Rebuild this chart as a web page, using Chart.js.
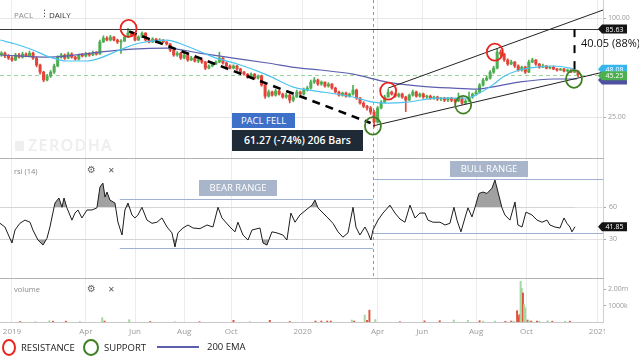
<!DOCTYPE html>
<html><head><meta charset="utf-8">
<script src="https://cdn.jsdelivr.net/npm/chart.js@4.4.1/dist/chart.umd.min.js"></script>
<style>
html,body{margin:0;padding:0;background:#fff;}
#wrap{position:relative;width:639px;height:360px;overflow:hidden;font-family:"Open Sans",sans-serif;}
#wrap canvas{position:absolute;left:0;}
.t{position:absolute;white-space:nowrap;line-height:1;}
.sep{position:absolute;left:0;width:604px;height:1px;background:#b3b3b3;}
.box{position:absolute;color:#fff;text-align:center;white-space:nowrap;}
.ring{position:absolute;border-radius:50%;}
</style></head><body>
<div id="wrap">
 <div class="t" style="left:15px;top:141px;width:9px;height:10px;background:#efefef"></div>
 <div class="t" style="left:28px;top:137px;font-size:16px;color:#eeeeee;letter-spacing:1.4px;font-weight:600">ZERODHA</div>
 <canvas id="cPrice" width="639" height="158" style="top:0"></canvas>
 <canvas id="cRsi" width="639" height="119" style="top:159px"></canvas>
 <canvas id="cVol" width="639" height="60" style="top:279px"></canvas>
 <div class="sep" style="top:158px"></div>
 <div class="sep" style="top:278px"></div>

 <div class="t" style="left:14px;top:11px;font-size:8px;color:#8a8a8a">PACL</div>
 <div class="t" style="left:40px;top:9px;font-size:9px;color:#444;font-family:'DejaVu Sans'">⋮</div>
 <div class="t" style="left:49px;top:11px;font-size:8px;color:#333">DAILY</div>

 <div class="box" style="left:232px;top:113px;width:63px;height:15px;line-height:15px;background:#3f70c8;font-size:9.5px">PACL FELL</div>
 <div class="box" style="left:232px;top:130px;width:131px;height:21px;line-height:21px;background:#1e2a35;font-size:10.5px;font-weight:600">61.27 (-74%) 206 Bars</div>
 <div class="t" style="left:581px;top:37px;font-size:11px;color:#111">40.05 (88%)</div>

 <div class="t" style="left:14px;top:168px;font-size:7.5px;color:#888">rsi (14)</div>
 <div class="t" style="left:87px;top:165px;font-size:10px;color:#666;font-family:'DejaVu Sans'">⚙</div>
 <div class="t" style="left:108px;top:167px;font-size:8px;color:#555;font-family:'DejaVu Sans'">✕</div>
 <div class="box" style="left:199px;top:180px;width:78px;height:16px;line-height:16px;background:#a8b5ca;font-size:9.5px">BEAR RANGE</div>
 <div class="box" style="left:450px;top:161px;width:78px;height:16px;line-height:16px;background:#a8b5ca;font-size:9.5px">BULL RANGE</div>

 <div class="t" style="left:14px;top:286px;font-size:7.5px;color:#888">volume</div>
 <div class="t" style="left:87px;top:284px;font-size:10px;color:#666;font-family:'DejaVu Sans'">⚙</div>
 <div class="t" style="left:108px;top:286px;font-size:8px;color:#555;font-family:'DejaVu Sans'">✕</div>

 <div class="ring" style="left:2px;top:339px;width:10px;height:13px;border:2px solid #e8261f"></div>
 <div class="t" style="left:21px;top:343px;font-size:9.5px;color:#222">RESISTANCE</div>
 <div class="ring" style="left:83px;top:339px;width:12px;height:13px;border:2px solid #3f7f22"></div>
 <div class="t" style="left:104px;top:343px;font-size:9.5px;color:#222">SUPPORT</div>
 <div class="t" style="left:157px;top:346px;width:42px;height:2px;background:#5b5fae"></div>
 <div class="t" style="left:207px;top:342px;font-size:9.5px;color:#222">200 EMA</div>
</div>
<script>
// ---------- data (x in trading-day index, 0 = 1 Jan 2019) ----------
const monthTickIdx = [0, 63, 105, 147, 187, 248, 312, 350, 396, 439, 500];
const monthLabels = ["2019","Apr","Jun","Aug","Oct","2020","Apr","Jun","Aug","Oct","2021"];
const firstCandleDay = -9, candleStepDays = 3;

const opens = [60.0,61.2,58.8,57.1,55.6,59.6,57.9,60.4,58.8,61.2,
57.1,51.8,46.9,42.0,44.4,46.9,51.1,57.9,59.6,57.1,
60.4,57.9,56.3,59.6,58.8,60.4,59.6,61.2,60.4,71.5,
75.6,73.5,76.6,73.5,71.5,72.5,76.6,81.0,78.8,73.5,
76.6,81.0,73.5,71.5,74.6,71.5,73.5,71.5,69.5,63.9,
59.6,61.2,57.1,59.6,55.6,57.1,54.7,55.6,54.0,49.6,
51.1,52.5,54.0,57.1,53.3,51.1,49.6,51.1,49.0,46.9,
45.6,43.8,45.6,43.1,44.4,39.1,33.5,35.5,34.0,36.0,
34.5,33.1,34.0,31.7,33.1,35.5,34.5,36.5,37.5,40.8,
42.0,39.7,40.8,38.6,39.7,37.5,35.5,34.0,35.0,33.5,
34.5,36.5,32.6,30.4,29.1,28.4,26.8,23.3,28.4,30.8,
33.1,35.5,34.5,33.5,34.5,33.1,31.7,34.0,35.5,33.5,
34.5,33.1,33.5,32.6,33.1,32.2,32.6,31.7,32.6,31.7,
31.3,32.6,30.4,31.3,33.1,34.5,35.5,39.1,42.0,43.1,
46.9,49.6,62.1,60.4,55.6,52.5,54.0,51.1,48.3,50.3,
46.9,54.0,55.6,52.5,50.3,51.1,49.6,50.3,49.0,48.3,
49.0,47.6,48.3,46.9,47.6];
const closes = [61.2,58.8,57.1,55.6,59.6,57.9,60.4,58.8,61.2,57.1,
51.8,46.9,42.0,44.4,46.9,51.1,57.9,59.6,57.1,60.4,
57.9,56.3,59.6,58.8,60.4,59.6,61.2,60.4,71.5,75.6,
73.5,76.6,73.5,71.5,72.5,76.6,81.0,78.8,73.5,76.6,
81.0,73.5,71.5,74.6,71.5,73.5,71.5,69.5,63.9,59.6,
61.2,57.1,59.6,55.6,57.1,54.7,55.6,54.0,49.6,51.1,
52.5,54.0,57.1,53.3,51.1,49.6,51.1,49.0,46.9,45.6,
43.8,45.6,43.1,44.4,39.1,33.5,35.5,34.0,36.0,34.5,
33.1,34.0,31.7,33.1,35.5,34.5,36.5,37.5,40.8,42.0,
39.7,40.8,38.6,39.7,37.5,35.5,34.0,35.0,33.5,34.5,
36.5,32.6,30.4,29.1,28.4,26.8,23.3,28.4,30.8,33.1,
35.5,34.5,33.5,34.5,33.1,31.7,34.0,35.5,33.5,34.5,
33.1,33.5,32.6,33.1,32.2,32.6,31.7,32.6,31.7,31.3,
32.6,30.4,31.3,33.1,34.5,35.5,39.1,42.0,43.1,46.9,
49.6,62.1,60.4,55.6,52.5,54.0,51.1,48.3,50.3,46.9,
54.0,55.6,52.5,50.3,51.1,49.6,50.3,49.0,48.3,49.0,
47.6,48.3,46.9,47.6,45.25];
const highs = [62.5,62.0,60.0,58.5,61.0,61.0,62.0,61.5,63.0,62.0,
58.0,52.5,47.5,45.5,48.0,52.5,59.0,61.0,60.5,62.0,
61.5,58.5,60.5,61.0,62.0,61.5,63.0,62.5,73.5,78.0,
77.0,78.5,77.5,74.5,74.0,78.0,86.5,83.0,79.5,78.0,
82.5,81.5,74.5,76.0,75.0,75.0,74.0,72.0,70.0,64.5,
62.5,62.0,61.0,60.0,58.5,58.0,56.5,56.5,54.5,52.0,
53.5,55.0,62.0,57.5,54.0,52.0,52.0,51.5,49.5,47.5,
46.0,46.5,46.0,45.0,45.0,39.5,36.5,36.0,37.0,36.5,
35.0,35.0,34.5,34.0,36.5,36.0,37.5,38.5,42.0,43.5,
42.5,41.5,41.0,40.5,40.0,38.0,36.0,35.5,35.5,35.0,
39.0,37.0,33.0,31.0,29.5,29.0,27.5,29.0,31.5,34.0,
37.0,36.0,35.0,35.0,35.0,33.5,34.5,36.5,36.0,35.0,
35.0,34.0,34.0,33.5,33.5,33.0,33.0,33.0,33.0,32.5,
35.0,33.0,32.0,35.5,35.0,36.5,40.0,43.0,44.5,48.0,
51.0,65.0,64.0,61.0,56.5,55.5,54.5,52.0,51.0,51.0,
55.5,57.0,56.0,53.0,52.5,51.5,51.0,51.0,49.5,49.5,
49.5,49.0,48.5,48.0,48.0];
const lows = [58.5,57.5,56.0,54.5,55.0,57.0,57.0,58.0,58.0,56.0,
50.5,45.5,41.0,41.5,43.5,46.0,50.5,57.0,56.0,56.5,
57.0,55.5,55.5,58.0,58.0,58.5,59.0,59.5,60.0,71.0,
72.5,72.5,72.5,70.0,61.0,72.0,76.0,77.5,72.5,73.0,
76.0,72.5,70.5,71.0,70.5,71.0,70.5,68.5,62.5,58.5,
58.5,56.0,56.5,54.5,55.0,54.0,53.5,53.0,48.5,49.0,
50.5,52.0,53.5,52.5,50.5,49.0,49.0,48.0,46.0,45.0,
43.0,43.5,42.5,42.5,38.5,32.5,33.0,33.5,33.5,34.0,
32.5,32.5,30.5,31.0,33.0,34.0,34.0,36.0,37.0,40.0,
39.0,39.0,38.0,38.0,37.0,35.0,33.5,33.5,33.0,33.0,
34.0,32.0,30.0,28.5,27.5,26.0,21.7,23.0,28.0,30.5,
33.0,34.0,33.0,33.0,32.5,27.0,31.5,33.5,33.0,33.0,
32.5,32.5,32.0,32.0,31.5,31.5,31.0,31.0,31.0,30.5,
31.0,29.8,30.0,31.0,32.5,34.0,35.0,38.5,41.5,42.5,
46.0,49.0,58.5,54.5,51.5,52.0,50.0,47.5,47.5,46.0,
46.5,53.5,51.5,49.5,50.0,49.0,49.0,48.5,47.5,48.0,
47.0,47.0,46.5,46.5,44.0];

const emaFastIdx = [-10,3,18,32,47,64,75,92,109,132,149,172,195,218,240,254,291,308,320,337,363,388,399,410,419,433,448,462,476,482];
const emaFastVals = [73.5,69.5,63.9,57.9,54.8,54.8,57.1,63.9,70.5,73.5,67.6,57.9,51.8,45.0,38.0,36.5,33.1,30.8,30.4,30.8,32.6,32.6,35.0,39.1,43.8,48.3,50.3,51.1,49.6,48.08];
const ema200Idx = [-10,32,75,103,132,160,189,218,246,263,291,320,348,376,397,414,433,462,482];
const ema200Vals = [59.6,57.9,62.1,64.8,65.7,61.2,57.1,53.3,49.6,48.3,45.6,40.8,38.6,37.5,37.0,38.6,40.8,42.6,42.6];

const rsiIdx = [-10.2,-6,0,2.6,6.8,11.1,15.4,17.9,22.2,26.5,29.9,32.4,36.7,40.1,42.7,44.4,46.9,51.2,53.8,56.3,59.7,64,68.3,72.5,75.1,77.6,79.4,81.1,83.6,87.9,90.4,93.9,96.4,99,102.4,104.9,107.5,110.9,115.2,119.5,123.7,128,132.3,136.5,139.1,141.6,145.9,150.2,154.4,160.4,166.4,171.5,175.8,179.2,186,190.3,192.8,197.1,201.4,204.8,211.6,214.2,217.6,221.8,226.1,231.2,234.6,238,241.5,245.7,250.9,256,258.5,261.1,265.4,269.6,273.9,278.2,282.4,286.7,291,293.5,296.9,301.2,303.8,306.3,308,312.3,316.6,322.5,326.8,331.1,335.3,339.6,343.9,348.1,352.4,354.9,359.2,365.2,369.5,373.7,377.1,379.7,383.1,386.5,389.1,392.5,395.1,398.5,401.9,405.3,409.6,412.1,414.7,418.1,420.6,424.9,429.2,431.7,435.2,438.6,443.7,448,452.2,456.5,459,463.3,467.6,471,473.5,476.1,477.8,480.4];
const rsiVals = [45,41.5,26.5,38.7,45,48,46,38.7,29.3,24.6,31,41.5,64,68.7,60,68.7,59.5,48,54.6,57.5,50,57.5,57.5,59.5,79,82.7,69.6,74.3,66.8,64,46.2,34,57.5,64,52.8,50,52.8,60,48,45,46,50,41.5,36,22.8,36,40.6,43.4,40.6,40,43.4,41.5,60,50,41.5,37,46,34,29.3,38.7,40.6,26.5,24.6,37,36,34,29.3,54.6,46,52.8,57.5,62,66.8,59.5,54.6,50,45,37,32,36,60,41.5,34,41.5,36,29.3,38.7,48,54.6,62,54.6,49,46,62,50,54.6,54.6,48,46,46,43.4,45,60,48,37,50,59.5,51,60,73,74.3,73,78,85.6,74.3,59.5,52.8,48,65,43.4,41.5,55.5,52.8,48,46,48,43.4,41.5,40.6,50,45,41.5,37,41.85];

const volIdx = [7,20,32,35,46,58,77,79,100,118,139,160,189,203,220,237,259,264,269,272,290,292,301,303,305,310,331,352,365,377,389,399,402,412,421,426,428,431,432,433,434,435,436,437,438,440,441,443,448,450,457,461,472,476];
const volThousands = [30,20,80,50,50,30,270,60,140,30,20,20,100,30,100,30,60,60,60,60,120,60,430,100,720,150,20,70,80,120,100,80,50,60,40,60,50,690,360,450,2480,2050,1770,1060,860,120,80,60,50,50,80,50,50,50];
const volUp = [0,1,1,0,0,1,1,0,1,0,1,0,0,1,0,0,0,0,0,0,1,0,1,0,0,1,0,0,0,1,1,0,1,1,0,0,1,0,0,0,1,1,0,1,1,0,1,0,0,1,1,0,1,0];

const priceTicks = [25, 100];
const rsiTicks = [30, 60];
const volTicks = [1000000, 2000000];
const volTickLabels = ["1000k", "2.00m"];

// annotations (data coordinates)
const resistanceLevel = 85.63, supportLevel = 45.25, lastEmaFast = 48.08, lastEma200 = 42.6, lastRsi = 41.85;
const fallLine = [[100, 83], [306, 23]];
const channelLow = [[308, 22.1], [504.5, 46.9]];
const channelHigh = [[321, 37.5], [504.5, 112]];
const resistancePts = [[99.5, 86.6], [321, 36.0], [412, 62.1]];
const supportPts = [[308, 22.1], [385, 29.7], [479.5, 42.6]];
const gainLine = [[480, 85.63], [480, 46.5]];
const crossIdx = 308;
const bearRange = {from: 92, to: 308, hi: 67.8, lo: 21.8};
const bullRange = {from: 308, to: 504.5, hi: 86.5, lo: 35.9};

// ---------- view ----------
const xMin = -10.2, xMax = 504.3;
Chart.defaults.font.family = '"Open Sans", sans-serif';
const UP = '#4fae52', DOWN = '#e2463a';
const candleDay = closes.map((_, k) => firstCandleDay + candleStepDays * k);

function xScale(showLabels) {
  return {
    type: 'linear', min: xMin, max: xMax, offset: false,
    afterBuildTicks: s => { s.ticks = monthTickIdx.map(v => ({value: v})); },
    ticks: showLabels ? {autoSkip: false, maxRotation: 0, font: {size: 8}, color: '#9a9a9a', padding: 5,
              callback: (v, i) => monthLabels[i]} : {display: false},
    grid: {color: '#ececec', drawTicks: false, offset: false},
    border: showLabels ? {display: true, color: '#c8c8c8'} : {display: false},
    afterFit: s => { s.height = showLabels ? 17 : 0; s.paddingLeft = 0; s.paddingRight = 0; }
  };
}
function yScale(extra) {
  return Object.assign({
    position: 'right',
    afterFit: s => { s.width = 36; s.paddingTop = 0; s.paddingBottom = 0; },
    border: {display: true, color: '#cfcfcf'},
  }, extra);
}
function seg(ctx, x1, y1, x2, y2) { ctx.beginPath(); ctx.moveTo(x1, y1); ctx.lineTo(x2, y2); ctx.stroke(); }
function badge(ctx, tip, y, bg, text) {
  const h = 9, w = 25;
  ctx.save();
  ctx.fillStyle = bg;
  ctx.beginPath();
  ctx.moveTo(tip, y); ctx.lineTo(tip + 4, y - h / 2); ctx.lineTo(tip + 4 + w, y - h / 2);
  ctx.lineTo(tip + 4 + w, y + h / 2); ctx.lineTo(tip + 4, y + h / 2); ctx.closePath(); ctx.fill();
  if (text) {
    ctx.fillStyle = '#fff'; ctx.font = '7px "Open Sans"'; ctx.textAlign = 'center'; ctx.textBaseline = 'middle';
    ctx.fillText(text, tip + 4 + w / 2, y + 0.5);
  }
  ctx.restore();
}
function crosshair(chart) {
  const {ctx, chartArea: a, scales: {x}} = chart;
  const px = Math.round(x.getPixelForValue(crossIdx)) + 0.5;
  ctx.save(); ctx.strokeStyle = '#9a9a9a'; ctx.lineWidth = 1; ctx.setLineDash([3, 3]);
  seg(ctx, px, a.top, px, a.bottom); ctx.restore();
}

const priceAnno = {
  id: 'priceAnno',
  beforeDatasetsDraw(chart) {
    const {ctx, chartArea: a, scales: {x, y}} = chart;
    ctx.save();
    ctx.strokeStyle = '#9bd49b'; ctx.lineWidth = 1; ctx.setLineDash([4, 3]);
    const sy = Math.round(y.getPixelForValue(supportLevel)) + 0.5;
    seg(ctx, a.left, sy, a.right, sy);
    ctx.restore();
    crosshair(chart);
  },
  afterDatasetsDraw(chart) {
    const {ctx, chartArea: a, scales: {x, y}} = chart;
    const P = p => [x.getPixelForValue(p[0]), y.getPixelForValue(p[1])];
    ctx.save();
    ctx.beginPath(); ctx.rect(a.left, a.top, a.right - a.left, a.bottom - a.top); ctx.clip();
    ctx.strokeStyle = '#3a3a3a'; ctx.lineWidth = 1;
    const ry = Math.round(y.getPixelForValue(resistanceLevel)) + 0.5;
    seg(ctx, a.left, ry, a.right, ry);
    ctx.strokeStyle = '#222'; ctx.lineWidth = 1;
    [channelLow, channelHigh].forEach(l => { const p1 = P(l[0]), p2 = P(l[1]); seg(ctx, p1[0], p1[1], p2[0], p2[1]); });
    ctx.strokeStyle = '#000'; ctx.lineWidth = 2.6; ctx.setLineDash([8, 6]);
    let p1 = P(fallLine[0]), p2 = P(fallLine[1]); seg(ctx, p1[0], p1[1], p2[0], p2[1]);
    ctx.lineWidth = 2; ctx.setLineDash([8, 8]);
    p1 = P(gainLine[0]); p2 = P(gainLine[1]); seg(ctx, p1[0], p1[1], p2[0], p2[1]);
    ctx.setLineDash([]);
    ctx.lineWidth = 1.8;
    ctx.strokeStyle = '#e8261f';
    resistancePts.forEach(p => { const c = P(p); ctx.beginPath(); ctx.ellipse(c[0], c[1], 8, 8.5, 0, 0, Math.PI * 2); ctx.stroke(); });
    ctx.strokeStyle = '#3f7f22';
    supportPts.forEach(p => { const c = P(p); ctx.beginPath(); ctx.ellipse(c[0], c[1], 8, 8.8, 0, 0, Math.PI * 2); ctx.stroke(); });
    ctx.restore();
  },
  afterDraw(chart) {
    const {ctx, chartArea: a, scales: {y}} = chart;
    const tip = a.right - 5;
    badge(ctx, tip, y.getPixelForValue(resistanceLevel), '#141414', resistanceLevel.toFixed(2));
    badge(ctx, tip, y.getPixelForValue(lastEmaFast) - 1, '#37b6ee', lastEmaFast.toFixed(2));
    badge(ctx, tip, y.getPixelForValue(lastEma200) + 1, '#4d519f', '');
    badge(ctx, tip, y.getPixelForValue(supportLevel) + 1, '#4cb04f', supportLevel.toFixed(2));
  }
};

new Chart(document.getElementById('cPrice'), {
  type: 'bar',
  data: {datasets: [
    {type: 'line', data: emaFastIdx.map((v, i) => ({x: v, y: emaFastVals[i]})), borderColor: '#4cc3f2', borderWidth: 1.2,
     pointRadius: 0, cubicInterpolationMode: 'monotone', order: 0},
    {type: 'line', data: ema200Idx.map((v, i) => ({x: v, y: ema200Vals[i]})), borderColor: '#5b5fae', borderWidth: 1.2,
     pointRadius: 0, cubicInterpolationMode: 'monotone', order: 0},
    {data: closes.map((c, i) => ({x: candleDay[i], y: [opens[i], c]})), grouped: false, barThickness: 2.4, minBarLength: 1,
     backgroundColor: c => closes[c.dataIndex] >= opens[c.dataIndex] ? UP : DOWN, order: 1},
    {data: closes.map((c, i) => ({x: candleDay[i], y: [lows[i], highs[i]]})), grouped: false, barThickness: 1,
     backgroundColor: c => closes[c.dataIndex] >= opens[c.dataIndex] ? UP : DOWN, order: 2}
  ]},
  options: {
    responsive: false, animation: false, events: [], devicePixelRatio: 1,
    layout: {padding: 0},
    plugins: {legend: {display: false}, tooltip: {enabled: false}},
    scales: {
      x: xScale(false),
      y: yScale({type: 'logarithmic', min: 14.1, max: 128.7,
        afterBuildTicks: s => { s.ticks = priceTicks.map(v => ({value: v})); },
        ticks: {callback: v => Number(v).toFixed(2), font: {size: 7}, color: '#9a9a9a', padding: 2},
        grid: {color: '#e6e6e6', drawTicks: true, tickLength: 3, tickColor: '#aaa'}})
    }
  },
  plugins: [priceAnno]
});

const rsiAnno = {
  id: 'rsiAnno',
  beforeDatasetsDraw(chart) {
    const {ctx, scales: {x, y}} = chart;
    ctx.save(); ctx.strokeStyle = '#9fb2d6'; ctx.lineWidth = 1;
    [bearRange, bullRange].forEach(r => {
      const x1 = x.getPixelForValue(r.from), x2 = x.getPixelForValue(r.to);
      [r.hi, r.lo].forEach(v => { const py = Math.round(y.getPixelForValue(v)) + 0.5; seg(ctx, x1, py, x2, py); });
    });
    ctx.restore();
    crosshair(chart);
  },
  afterDraw(chart) {
    const {ctx, chartArea: a, scales: {y}} = chart;
    badge(ctx, a.right - 5, y.getPixelForValue(lastRsi), '#141414', lastRsi.toFixed(2));
  }
};
const rsiPts = rsiIdx.map((v, i) => ({x: v, y: rsiVals[i]}));
new Chart(document.getElementById('cRsi'), {
  type: 'line',
  data: {datasets: [
    {data: rsiPts, borderColor: '#1c1c1c', borderWidth: 1, pointRadius: 0, tension: 0,
     fill: {target: {value: 60}, above: 'rgba(145,145,145,0.85)', below: 'rgba(0,0,0,0)'}},
    {data: rsiPts, borderColor: 'rgba(0,0,0,0)', borderWidth: 0, pointRadius: 0, tension: 0,
     fill: {target: {value: 30}, above: 'rgba(0,0,0,0)', below: 'rgba(145,145,145,0.85)'}}
  ]},
  options: {
    responsive: false, animation: false, events: [], devicePixelRatio: 1,
    layout: {padding: 0},
    plugins: {legend: {display: false}, tooltip: {enabled: false}},
    scales: {
      x: xScale(false),
      y: yScale({type: 'linear', min: -6.3, max: 105.3,
        afterBuildTicks: s => { s.ticks = rsiTicks.map(v => ({value: v})); },
        ticks: {callback: v => String(v), font: {size: 7}, color: '#9a9a9a', padding: 3},
        grid: {color: '#e2e2e2', drawTicks: true, tickLength: 3, tickColor: '#aaa'}})
    }
  },
  plugins: [rsiAnno]
});

const volClip = {
  id: 'volClip',
  afterDraw(chart) {
    const {ctx, chartArea: a} = chart;
    ctx.save(); ctx.fillStyle = '#fff'; ctx.fillRect(a.right + 2, a.bottom + 2, 40, 16); ctx.restore();
  }
};
new Chart(document.getElementById('cVol'), {
  type: 'bar',
  data: {datasets: [
    {data: volIdx.map((v, i) => ({x: v, y: volThousands[i] * 1000})), grouped: false, barThickness: 1.3,
     backgroundColor: c => volUp[c.dataIndex] ? '#a3d9a0' : '#e2533d'}
  ]},
  options: {
    responsive: false, animation: false, events: [], devicePixelRatio: 1,
    layout: {padding: 0},
    plugins: {legend: {display: false}, tooltip: {enabled: false}},
    scales: {
      x: xScale(true),
      y: yScale({type: 'linear', min: 0, max: 2620000,
        afterBuildTicks: s => { s.ticks = volTicks.map(v => ({value: v})); },
        ticks: {callback: (v, i) => volTickLabels[i], font: {size: 7}, color: '#9a9a9a', padding: 2},
        grid: {drawOnChartArea: false, drawTicks: true, tickLength: 3, tickColor: '#aaa'}})
    }
  },
  plugins: [volClip]
});
</script>
</body></html>
